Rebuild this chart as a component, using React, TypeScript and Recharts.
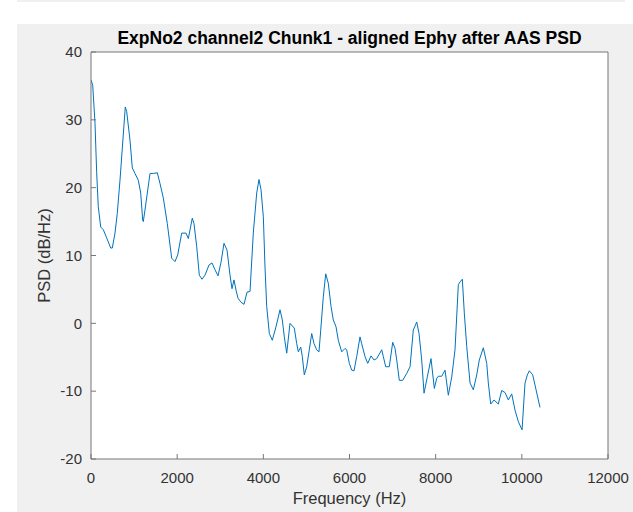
import { LineChart, Line, XAxis, YAxis } from "recharts";

// PSD trace, frequency in Hz and power in dB/Hz
const freqHz = [
  0, 40, 93, 132, 169, 225, 286, 364, 457, 494,
  557, 610, 673, 796, 829, 905, 959, 1021, 1098, 1154,
  1200, 1214, 1253, 1370, 1446, 1539, 1602, 1678, 1771, 1873,
  1950, 2013, 2105, 2205, 2259, 2351, 2391, 2454, 2514, 2577,
  2646, 2739, 2809, 2878, 2948, 3018, 3087, 3157, 3227, 3273,
  3319, 3366, 3412, 3482, 3552, 3621, 3691, 3767, 3846, 3900,
  3946, 4000, 4039, 4078, 4139, 4208, 4294, 4387, 4441, 4487,
  4543, 4619, 4719, 4775, 4812, 4868, 4905, 4951, 5007, 5067,
  5123, 5176, 5239, 5292, 5332, 5392, 5448, 5508, 5571, 5624,
  5687, 5740, 5819, 5896, 5935, 5996, 6051, 6105, 6167, 6244,
  6283, 6360, 6423, 6500, 6569, 6632, 6748, 6785, 6841, 6924,
  7003, 7057, 7096, 7156, 7235, 7328, 7405, 7481, 7560, 7614,
  7676, 7730, 7806, 7892, 7969, 8025, 8062, 8141, 8217, 8294,
  8373, 8449, 8526, 8565, 8619, 8665, 8721, 8798, 8874, 8953,
  9013, 9106, 9185, 9222, 9278, 9355, 9454, 9533, 9610, 9687,
  9765, 9842, 9919, 10005, 10074, 10128, 10174, 10253, 10330, 10422,
];

const psdDb = [
  35.9, 35.1, 29.5, 22.2, 17.2, 14.2, 13.8, 12.6, 11.1, 11.1,
  13.3, 16.2, 21.1, 31.9, 31.2, 27.0, 22.9, 22.1, 21.1, 19.2,
  15.2, 15.0, 16.7, 22.1, 22.1, 22.2, 20.6, 18.5, 14.7, 9.6,
  9.1, 10.1, 13.3, 13.3, 12.5, 15.5, 14.7, 11.3, 7.1, 6.5,
  7.1, 8.6, 8.9, 7.9, 7.0, 9.0, 11.8, 10.8, 7.1, 5.1,
  6.4, 4.9, 3.7, 3.1, 2.8, 4.6, 4.7, 13.3, 19.2, 21.2,
  19.7, 15.7, 8.3, 2.5, -1.5, -2.5, -0.5, 2.0, 0.5, -2.0,
  -4.4, 0.0, -0.7, -3.0, -4.2, -3.5, -4.9, -7.6, -6.4, -3.9,
  -1.5, -3.0, -3.9, -4.2, -1.0, 3.9, 7.3, 5.9, 2.5, 0.5,
  -0.5, -2.5, -4.2, -3.7, -3.9, -5.9, -6.9, -7.0, -4.9, -2.0,
  -3.0, -4.9, -5.9, -4.8, -5.4, -5.2, -3.9, -4.9, -6.4, -6.4,
  -2.8, -3.7, -5.4, -8.4, -8.4, -7.4, -6.4, -1.0, 0.2, -1.5,
  -5.4, -10.3, -7.9, -5.2, -9.6, -8.1, -7.8, -7.8, -6.9, -10.6,
  -7.9, -3.9, 5.7, 6.1, 6.5, 1.5, -3.4, -8.8, -9.8, -7.6,
  -5.4, -3.6, -5.9, -8.8, -11.9, -11.3, -11.9, -9.9, -10.2, -11.3,
  -10.4, -12.8, -14.5, -15.7, -8.8, -7.6, -7.0, -7.6, -9.8, -12.4,
];

const xTicks = [0, 2000, 4000, 6000, 8000, 10000, 12000];
const yTicks = [-20, -10, 0, 10, 20, 30, 40];

const title = "ExpNo2 channel2 Chunk1 - aligned Ephy after AAS PSD";
const xLabel = "Frequency (Hz)";
const yLabel = "PSD (dB/Hz)";

const data = freqHz.map((f, i) => ({ f, psd: psdDb[i] }));

const FONT = '"Liberation Sans", Arial, Helvetica, sans-serif';
const AXIS = "#777777";
const TEXT = "#333333";
const FIG_BG = "#f0f0f0";

const tickStyle = { fill: TEXT, fontSize: 15, fontFamily: FONT };

// chart frame: plot area sits at left 74 / top 28 inside a 616x488 svg
const W = 616;
const H = 488;
const M = { top: 28, right: 25, left: 74, bottom: 53 };

export default function App() {
  return (
    <div style={{ position: "relative", width: 633, height: 512, background: "#fff", overflow: "hidden" }}>
      <style>{`body{margin:0}`}</style>
      <div style={{ position: "absolute", left: 17, top: 0, width: 608, height: 2, background: FIG_BG }} />
      <div style={{ position: "absolute", left: 17, top: 24, width: W, height: H, background: FIG_BG }}>
        {/* white axes face */}
        <div
          style={{
            position: "absolute",
            left: M.left,
            top: M.top,
            width: W - M.left - M.right,
            height: H - M.top - M.bottom,
            background: "#fff",
          }}
        />
        <div style={{ position: "absolute", left: 0, top: 0 }}>
          <LineChart
            width={W}
            height={H}
            data={data}
            margin={{ top: M.top - 1, right: M.right - 1, bottom: 0, left: 0 }}
          >
            <XAxis
              dataKey="f"
              type="number"
              domain={[0, 12000]}
              ticks={xTicks}
              allowDataOverflow
              height={M.bottom}
              stroke={AXIS}
              tickSize={-5}
              tickMargin={18}
              tick={tickStyle}
              label={{
                content: (props: any) => {
                  const vb = props.viewBox;
                  return (
                    <text
                      x={vb.x + vb.width / 2}
                      y={vb.y + 45}
                      textAnchor="middle"
                      fontSize={16.5}
                      fontFamily={FONT}
                      fill={TEXT}
                    >
                      {xLabel}
                    </text>
                  );
                },
              }}
            />
            <XAxis
              xAxisId="top"
              dataKey="f"
              orientation="top"
              type="number"
              domain={[0, 12000]}
              ticks={xTicks}
              allowDataOverflow
              height={1}
              tick={false}
              tickSize={-5}
              stroke={AXIS}
              label={{
                content: (props: any) => {
                  const vb = props.viewBox;
                  return (
                    <text
                      x={vb.x + vb.width / 2}
                      y={vb.y - 7}
                      textAnchor="middle"
                      fontSize={17.5}
                      fontWeight="bold"
                      fontFamily={FONT}
                      fill="#000"
                    >
                      {title}
                    </text>
                  );
                },
              }}
            />

            <YAxis
              type="number"
              domain={[-20, 40]}
              ticks={yTicks}
              allowDataOverflow
              width={M.left}
              stroke={AXIS}
              tickSize={-5}
              tickMargin={14}
              tick={tickStyle}
              label={{
                content: (props: any) => {
                  const vb = props.viewBox;
                  const cx = vb.x + 33;
                  const cy = vb.y + vb.height / 2;
                  return (
                    <text
                      x={cx}
                      y={cy}
                      transform={`rotate(-90 ${cx} ${cy})`}
                      textAnchor="middle"
                      fontSize={16.5}
                      fontFamily={FONT}
                      fill={TEXT}
                    >
                      {yLabel}
                    </text>
                  );
                },
              }}
            />
            <YAxis
              yAxisId="right"
              orientation="right"
              type="number"
              domain={[-20, 40]}
              ticks={yTicks}
              allowDataOverflow
              width={1}
              tick={false}
              tickSize={-5}
              stroke={AXIS}
            />

            <Line
              type="linear"
              dataKey="psd"
              stroke="#0072BD"
              strokeWidth={1}
              dot={false}
              activeDot={false}
              isAnimationActive={false}
            />
            {/* carries the top and right frame axes */}
            <Line
              xAxisId="top"
              yAxisId="right"
              type="linear"
              dataKey="psd"
              stroke="none"
              dot={false}
              activeDot={false}
              legendType="none"
              isAnimationActive={false}
            />
          </LineChart>
        </div>
      </div>
    </div>
  );
}
